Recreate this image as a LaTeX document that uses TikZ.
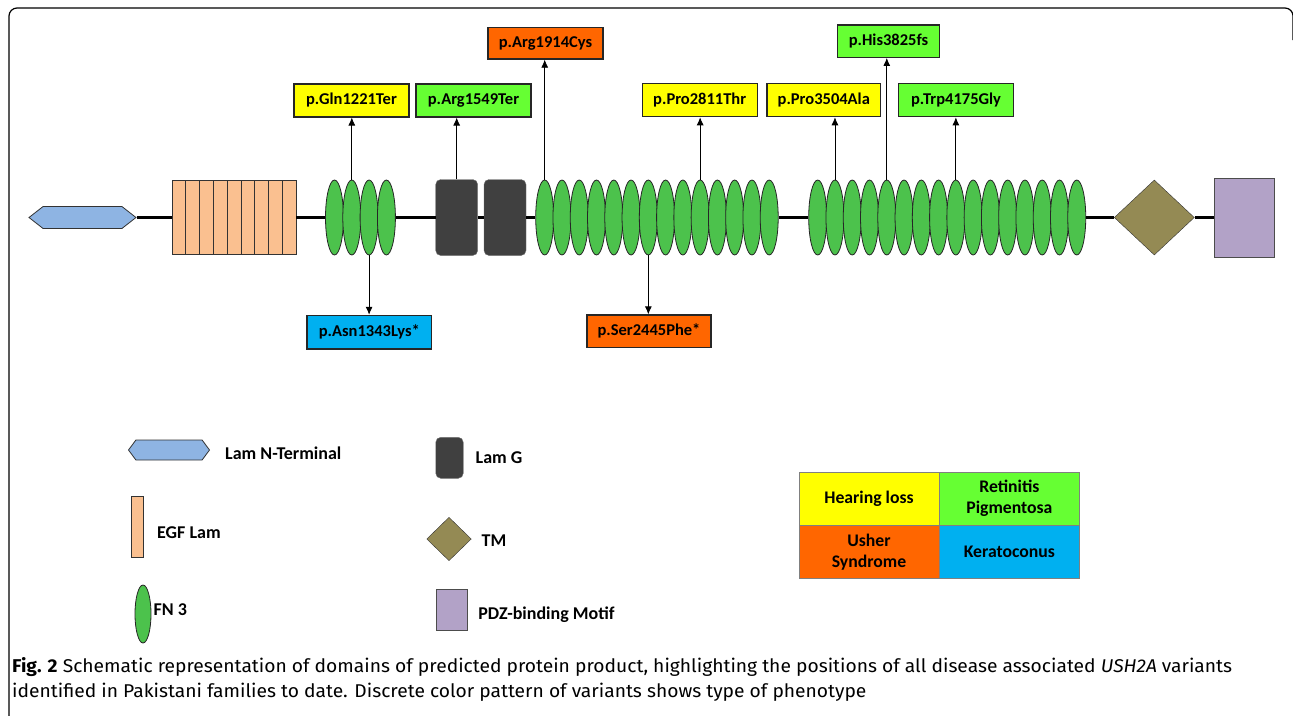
\documentclass[tikz,border=0pt]{standalone}
\usepackage{fontspec}
\setmainfont{Carlito}
\newfontfamily\capfont[FakeStretch=1.04]{Fira Sans}
\usetikzlibrary{positioning,shapes.geometric,shapes.symbols,arrows.meta}

\definecolor{hearcol}{HTML}{FFFF00}
\definecolor{rpcol}{HTML}{66FF33}
\definecolor{ushcol}{HTML}{FF6600}
\definecolor{keracol}{HTML}{00B0F0}
\definecolor{fncol}{HTML}{4CC24C}
\definecolor{egfcol}{HTML}{FAC090}
\definecolor{lamncol}{HTML}{8EB4E3}
\definecolor{lamgcol}{HTML}{404040}
\definecolor{tmcol}{HTML}{948A54}
\definecolor{pdzcol}{HTML}{B2A2C7}

\begin{document}
\begin{tikzpicture}[
    x=1pt, y=-1pt,
    node distance=10pt and 12pt,
    fnnode/.style={draw=black!85,fill=fncol,ellipse,inner sep=0pt,minimum width=18pt,minimum height=75pt,line width=0.8pt},
    egfnode/.style={draw=black!80,fill=egfcol,rectangle,inner sep=0pt,minimum width=13.8pt,minimum height=74pt,line width=0.8pt},
    lamnnode/.style={draw=black!80,fill=lamncol,signal,signal to=east and west,signal pointer angle=76,inner sep=0pt,minimum width=107pt,minimum height=22pt,line width=0.8pt},
    lamgnode/.style={draw=black!55,fill=lamgcol,rectangle,rounded corners=5pt,inner sep=0pt,minimum width=42pt,minimum height=76pt},
    tmnode/.style={draw=black!80,fill=tmcol,diamond,inner sep=0pt,minimum width=80pt,minimum height=75pt},
    pdznode/.style={draw=black!70,fill=pdzcol,rectangle,inner sep=0pt,minimum width=60pt,minimum height=79pt},
    varnode/.style={draw=black!85,line width=1.2pt,rectangle,inner sep=0pt,minimum width=115pt,minimum height=33pt,font=\fontsize{16.5}{16.5}\selectfont\bfseries},
    legtext/.style={inner sep=0pt,font=\fontsize{18}{18}\selectfont\bfseries},
    phenonode/.style={draw=black!50,rectangle,inner sep=0pt,minimum width=140pt,minimum height=52.7pt,align=center,font=\fontsize{17.7}{21}\selectfont\bfseries},
    varline/.style={-{Latex[length=8pt,width=7pt]},line width=0.8pt}
  ]
  \useasboundingbox (0,0) rectangle (1293,715);
  \draw[line width=1.2pt,rounded corners=8pt] (9,716) -- (9,8) -- (1293,8) -- (1293,40);

  % protein domains
  \node[lamnnode] (LamN) at (82.5,217.5) {};
  \foreach \i in {1,...,9}
    \node[egfnode] (EGF\i) at ({178.9+(\i-1)*13.78},217.5) {};
  \foreach \i in {1,...,4}
    \node[fnnode] (FNa\i) at ({334.5+(\i-1)*17.3},217.5) {};
  \node[lamgnode] (LamGa) at (456.7,217.5) {};
  \node[lamgnode] (LamGb) at (505,217.5) {};
  \foreach \i in {1,...,14}
    \node[fnnode] (FNb\i) at ({544.7+(\i-1)*17.27},217.5) {};
  \foreach \i in {1,...,16}
    \node[fnnode] (FNc\i) at ({817.7+(\i-1)*17.27},217.5) {};
  \node[tmnode] (TM) at (1154.3,217.5) {};
  \node[pdznode] (PDZ) at (1244.5,217.5) {};
  \draw[line width=3pt] (LamN.east) -- (EGF1.west) (EGF9.east) -- (FNa1.west)
    (FNa4.east) -- (LamGa.west) (LamGa.east) -- (LamGb.west) (LamGb.east) -- (FNb1.west)
    (FNb14.east) -- (FNc1.west) (FNc16.east) -- (TM.west) (TM.east) -- (PDZ.west);

  % variants
  \node[varnode,fill=hearcol] (Gln) at (351.5,100.4) {p.Gln1221Ter};
  \node[varnode,fill=rpcol] (ArgTer) at (473.5,100.5) {p.Arg1549Ter};
  \node[varnode,fill=ushcol,minimum height=31.7pt] (ArgCys) at (545.5,43.2) {p.Arg1914Cys};
  \node[varnode,fill=keracol,minimum width=124.6pt,minimum height=33.7pt] (Asn) at (369.3,332.2) {p.Asn1343Lys*};
  \node[varnode,fill=ushcol,minimum width=124pt,minimum height=32.7pt] (Ser) at (649,331.3) {p.Ser2445Phe*};
  \node[varnode,fill=hearcol] (ProThr) at (699.7,100.2) {p.Pro2811Thr};
  \node[varnode,fill=hearcol,minimum width=113.7pt] (ProAla) at (823.8,100.2) {p.Pro3504Ala};
  \node[varnode,fill=rpcol,minimum width=102pt,minimum height=32.3pt] (His) at (888.5,41.2) {p.His3825fs};
  \node[varnode,fill=rpcol] (Trp) at (956,100.2) {p.Trp4175Gly};
  \draw[varline] (FNa2.north) -- (FNa2.north |- Gln.south);
  \draw[varline] (FNa3.south) -- (FNa3.south |- Asn.north);
  \draw[varline] (LamGa.north) -- (LamGa.north |- ArgTer.south);
  \draw[varline] (FNb1.north) -- (FNb1.north |- ArgCys.south);
  \draw[varline] (FNb7.south) -- (FNb7.south |- Ser.north);
  \draw[varline] (FNb10.north) -- (FNb10.north |- ProThr.south);
  \draw[varline] (FNc2.north) -- (FNc2.north |- ProAla.south);
  \draw[varline] (FNc5.north) -- (FNc5.north |- His.south);
  \draw[varline] (FNc9.north) -- (FNc9.north |- Trp.south);

  % legend
  \node[lamnnode,minimum width=81pt,minimum height=20pt,signal pointer angle=107] (LegLamN) at (169,450) {};
  \node[legtext,right=15pt of LegLamN,yshift=-3pt] (TxtLamN) {Lam N-Terminal};
  \node[egfnode,minimum width=12.6pt,minimum height=61.7pt] (LegEGF) at (137.3,526.8) {};
  \node[legtext,right=13pt of LegEGF,yshift=-6pt] (TxtEGF) {EGF Lam};
  \node[fnnode,minimum width=16pt,minimum height=58pt] (LegFN) at (143,614) {};
  \node[legtext,right=2pt of LegFN,yshift=4pt] (TxtFN) {FN 3};
  \node[lamgnode,minimum width=27.5pt,minimum height=41pt] (LegLamG) at (449.5,457.8) {};
  \node[legtext,right=12pt of LegLamG] (TxtLamG) {Lam G};
  \node[tmnode,minimum width=44.6pt,minimum height=43.4pt] (LegTM) at (449,539) {};
  \node[legtext,right=10pt of LegTM,yshift=-2pt] (TxtTM) {TM};
  \node[pdznode,minimum width=31pt,minimum height=40.7pt] (LegPDZ) at (451.4,609.7) {};
  \node[legtext,right=11pt of LegPDZ,yshift=-5pt] (TxtPDZ) {PDZ-binding Motif};

  % phenotypes
  \node[phenonode,fill=hearcol] (Hearing) at (869,498.7) {Hearing loss};
  \node[phenonode,fill=rpcol,right=0pt of Hearing] (Retinitis) {Retinitis\\Pigmentosa};
  \node[phenonode,fill=ushcol,below=0pt of Hearing] (Usher) {Usher\\Syndrome};
  \node[phenonode,fill=keracol,right=0pt of Usher] (Kerato) {Keratoconus};

  % caption
  \node[anchor=base west,inner sep=0pt,font=\capfont\fontsize{18.5}{18.5}\selectfont] (CapA) at (12,672)
    {\textbf{Fig. 2} Schematic representation of domains of predicted protein product, highlighting the positions of all disease associated \textit{USH2A} variants};
  \node[anchor=base west,inner sep=0pt,font=\capfont\fontsize{18.5}{18.5}\selectfont] (CapB) at (12,697)
    {identified in Pakistani families to date. Discrete color pattern of variants shows type of phenotype};
\end{tikzpicture}
\end{document}
